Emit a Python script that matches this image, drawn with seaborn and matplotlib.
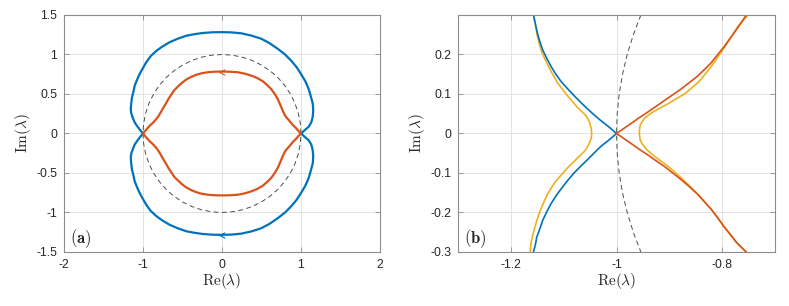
import numpy as np
import matplotlib
matplotlib.use("Agg")
import matplotlib.pyplot as plt
import seaborn as sns

# ---- panel (a): upper halves, from (1,0) over the top to (-1,0)
blue_a_x = [1.0, 1.045, 1.097, 1.130, 1.147, 1.155, 1.150, 1.126, 1.097, 1.055, 1.0, 0.945, 0.874,
            0.798, 0.706, 0.601, 0.496, 0.370, 0.244, 0.120, 0.0, -0.120, -0.244, -0.349, -0.454,
            -0.559, -0.664, -0.756, -0.832, -0.903, -0.958, -1.0, -1.042, -1.075, -1.105, -1.118,
            -1.139, -1.150, -1.155, -1.147, -1.126, -1.105, -1.076, -1.040, -1.0]
blue_a_y = [0.0, 0.040, 0.085, 0.140, 0.203, 0.280, 0.373, 0.466, 0.564, 0.661, 0.754, 0.839, 0.924,
            1.0, 1.072, 1.144, 1.200, 1.240, 1.268, 1.280, 1.283, 1.281, 1.272, 1.257, 1.237,
            1.200, 1.155, 1.100, 1.045, 0.979, 0.903, 0.830, 0.754, 0.680, 0.606, 0.542,
            0.458, 0.370, 0.300, 0.250, 0.190, 0.140, 0.097, 0.048, 0.0]

orange_a_x = [1.0, 0.966, 0.937, 0.895, 0.853, 0.802, 0.769, 0.739, 0.706, 0.668, 0.622, 0.571, 0.517,
              0.445, 0.370, 0.286, 0.202, 0.097, 0.0, -0.097, -0.181, -0.256, -0.328, -0.391, -0.454,
              -0.508, -0.559, -0.605, -0.643, -0.676, -0.706, -0.739, -0.769, -0.798, -0.832, -0.874,
              -0.916, -0.958, -1.0]
orange_a_y = [0.0, 0.034, 0.068, 0.110, 0.161, 0.220, 0.288, 0.360, 0.436, 0.500, 0.564, 0.614, 0.661,
              0.703, 0.733, 0.758, 0.775, 0.782, 0.784, 0.782, 0.775, 0.763, 0.742, 0.716, 0.682,
              0.640, 0.593, 0.547, 0.490, 0.441, 0.386, 0.331, 0.280, 0.229, 0.182, 0.136,
              0.097, 0.051, 0.0]

# dashed unit circle, first quadrant points
circ_x = [1.0, 0.9914, 0.9659, 0.9239, 0.8660, 0.7934, 0.7071, 0.6088, 0.5, 0.3827, 0.2588, 0.1305, 0.0]
circ_y = [0.0, 0.1305, 0.2588, 0.3827, 0.5, 0.6088, 0.7071, 0.7934, 0.8660, 0.9239, 0.9659, 0.9914, 1.0]

# ---- panel (b): zoom around -1, top to bottom
blue_b_x = [-1.1572, -1.1535, -1.1497, -1.1453, -1.140, -1.1327, -1.1245, -1.1157, -1.1057, -1.0931,
            -1.0805, -1.0679, -1.055, -1.0428, -1.030, -1.0145, -1.0,
            -1.0145, -1.030, -1.0428, -1.0553, -1.0679, -1.0805, -1.0931, -1.1057, -1.1157,
            -1.1245, -1.1327, -1.140, -1.1453, -1.151, -1.1535, -1.1572]
blue_b_y = [0.3, 0.2767, 0.254, 0.2333, 0.2125, 0.1917, 0.171, 0.1517, 0.133, 0.114,
            0.096, 0.079, 0.0625, 0.0475, 0.033, 0.0167, 0.0,
            -0.0167, -0.033, -0.05, -0.0667, -0.083, -0.1, -0.12, -0.1417, -0.16,
            -0.179, -0.2, -0.221, -0.242, -0.2625, -0.281, -0.3]

orange_b_x = [-0.7544, -0.7639, -0.7734, -0.7845, -0.7956, -0.8083, -0.8209, -0.8335, -0.8462, -0.862,
              -0.8778, -0.8936, -0.9095, -0.9253, -0.9411, -0.957, -0.9728, -0.9864, -1.0,
              -0.9864, -0.9728, -0.957, -0.9411, -0.9253, -0.9095, -0.8936, -0.8778, -0.862,
              -0.8462, -0.8335, -0.8209, -0.8083, -0.7956, -0.7845, -0.7734, -0.7639, -0.7544]
orange_b_y = [0.3, 0.281, 0.2625, 0.242, 0.221, 0.2, 0.179, 0.162, 0.1458, 0.129,
              0.1125, 0.098, 0.0833, 0.0687, 0.054, 0.04, 0.025, 0.0125, 0.0,
              -0.0125, -0.025, -0.04, -0.054, -0.069, -0.0833, -0.1, -0.1167, -0.135,
              -0.154, -0.173, -0.1917, -0.214, -0.2375, -0.256, -0.275, -0.288, -0.3]

yellow_l_x = [-1.1572, -1.1535, -1.151, -1.147, -1.1421, -1.135, -1.1277, -1.12, -1.112, -1.1025,
              -1.0931, -1.0836, -1.0742, -1.066, -1.0585, -1.0535, -1.0503, -1.049, -1.0478, -1.0475, -1.047,
              -1.0475, -1.0478, -1.049, -1.0503, -1.054, -1.0585, -1.066, -1.0742, -1.0836, -1.0931,
              -1.104, -1.1151, -1.123, -1.1308, -1.138, -1.1447, -1.15, -1.1547, -1.158, -1.161, -1.1625, -1.1635]
yellow_l_y = [0.3, 0.2767, 0.254, 0.231, 0.208, 0.187, 0.1667, 0.148, 0.129, 0.112,
              0.096, 0.081, 0.0667, 0.056, 0.046, 0.035, 0.025, 0.018, 0.012, 0.006, 0.0,
              -0.006, -0.012, -0.015, -0.0208, -0.031, -0.0417, -0.052, -0.0625, -0.075, -0.0875,
              -0.104, -0.121, -0.137, -0.154, -0.175, -0.196, -0.217, -0.2375, -0.254, -0.271, -0.286, -0.3]

yellow_r_x = [-0.7513, -0.761, -0.7703, -0.781, -0.7924, -0.805, -0.8177, -0.830, -0.843, -0.857,
              -0.8715, -0.888, -0.9032, -0.918, -0.9316, -0.941, -0.9475, -0.952, -0.9551, -0.9562, -0.957,
              -0.9562, -0.9551, -0.952, -0.9475, -0.941, -0.9316, -0.920, -0.9063, -0.892, -0.8778,
              -0.862, -0.8462, -0.8335, -0.8209, -0.8083, -0.7956, -0.7845, -0.7734, -0.7639, -0.7544]
yellow_r_y = [0.3, 0.285, 0.271, 0.248, 0.225, 0.2, 0.175, 0.154, 0.133, 0.116,
              0.1, 0.087, 0.075, 0.064, 0.054, 0.045, 0.0375, 0.029, 0.0208, 0.014, 0.0,
              -0.008, -0.0167, -0.025, -0.0333, -0.043, -0.054, -0.066, -0.079, -0.095, -0.1125,
              -0.132, -0.154, -0.173, -0.1917, -0.214, -0.2375, -0.256, -0.275, -0.288, -0.3]

circ_b_x = [-0.9539, -0.9682, -0.9798, -0.9887, -0.9950, -0.9987, -1.0]
circ_b_y = [0.3, 0.25, 0.2, 0.15, 0.1, 0.05, 0.0]

xticks_a = [-2, -1, 0, 1, 2]
yticks_a = [-1.5, -1, -0.5, 0, 0.5, 1, 1.5]
yticklabels_a = ["-1.5", "-1", "-0.5", "0", "0.5", "1", "1.5"]
xticks_b = [-1.2, -1, -0.8]
xticklabels_b = ["-1.2", "-1", "-0.8"]
yticks_b = [-0.3, -0.2, -0.1, 0, 0.1, 0.2]
yticklabels_b = ["-0.3", "-0.2", "-0.1", "0", "0.1", "0.2"]

BLUE, ORANGE, YELLOW = "#0072BD", "#D95319", "#EDB120"


def closed(xu, yu):
    # lower half is the mirror image (complex conjugate) of the upper half
    xs = list(xu) + list(xu[::-1][1:])
    ys = list(yu) + [-v for v in yu[::-1][1:]]
    return xs, ys


def full_circle(qx, qy):
    xs = list(qx) + [-v for v in qx[::-1][1:]]
    ys = list(qy) + list(qy[::-1][1:])
    return closed(xs, ys)


sns.set_style("white")
plt.rcParams["font.family"] = ["Liberation Sans", "DejaVu Sans"]
plt.rcParams["mathtext.fontset"] = "cm"
plt.rcParams["axes.unicode_minus"] = False

fig = plt.figure(figsize=(7.89, 3.06), dpi=100)
ax1 = fig.add_axes([0.0811, 0.1765, 0.4005, 0.7745])
ax2 = fig.add_axes([0.5805, 0.1765, 0.4018, 0.7745])

chev = [(1, 1), (-1, 0), (1, -1)]

# panel (a)
cx, cy = full_circle(circ_x, circ_y)
sns.lineplot(x=cx, y=cy, ax=ax1, sort=False, estimator=None, color="#4d4d4d",
             lw=0.7, linestyle=(0, (5, 3.5)))
bx, by = closed(blue_a_x, blue_a_y)
sns.lineplot(x=bx, y=by, ax=ax1, sort=False, estimator=None, color=BLUE, lw=1.6)
ox, oy = closed(orange_a_x, orange_a_y)
sns.lineplot(x=ox, y=oy, ax=ax1, sort=False, estimator=None, color=ORANGE, lw=1.6)
# small direction arrows at Re = 0
i_top = orange_a_x.index(0.0)
ax1.plot(ox[i_top], oy[i_top], marker=chev, ms=4, mfc="none", mec=ORANGE, mew=0.8)
i_bot = len(bx) - 1 - blue_a_x.index(0.0)
ax1.plot(bx[i_bot], by[i_bot], marker=chev, ms=4, mfc="none", mec=BLUE, mew=0.8)

# panel (b)
cbx, cby = closed(circ_b_x, circ_b_y)
sns.lineplot(x=cbx, y=cby, ax=ax2, sort=False, estimator=None, color="#4d4d4d",
             lw=0.7, linestyle=(0, (5, 3.5)))
sns.lineplot(x=yellow_l_x, y=yellow_l_y, ax=ax2, sort=False, estimator=None, color=YELLOW, lw=1.2)
sns.lineplot(x=yellow_r_x, y=yellow_r_y, ax=ax2, sort=False, estimator=None, color=YELLOW, lw=1.2)
sns.lineplot(x=blue_b_x, y=blue_b_y, ax=ax2, sort=False, estimator=None, color=BLUE, lw=1.2)
sns.lineplot(x=orange_b_x, y=orange_b_y, ax=ax2, sort=False, estimator=None, color=ORANGE, lw=1.2)

ax1.set_xlim(-2, 2)
ax1.set_ylim(-1.5, 1.5)
ax1.set_xticks(xticks_a)
ax1.set_xticklabels([str(v) for v in xticks_a])
ax1.set_yticks(yticks_a)
ax1.set_yticklabels(yticklabels_a)

ax2.set_xlim(-1.3, -0.7)
ax2.set_ylim(-0.3, 0.3)
ax2.set_xticks(xticks_b)
ax2.set_xticklabels(xticklabels_b)
ax2.set_yticks(yticks_b)
ax2.set_yticklabels(yticklabels_b)

for ax, tag in [(ax1, "(a)"), (ax2, "(b)")]:
    ax.grid(True, color="#e3e3e3", lw=0.7)
    ax.set_axisbelow(True)
    for s in ax.spines.values():
        s.set_color("#8c8c8c")
        s.set_linewidth(0.8)
    ax.tick_params(direction="in", length=3.5, width=0.6, color="#8c8c8c",
                   labelsize=8.8, labelcolor="#262626", pad=5,
                   top=True, right=True, bottom=True, left=True)
    ax.set_xlabel(r"$\mathrm{Re}(\lambda)$", fontsize=11, labelpad=0, color="#262626")
    ax.set_ylabel(r"$\mathrm{Im}(\lambda)$", fontsize=11, labelpad=2, color="#262626")
    ax.text(0.02, 0.055, r"$\mathbf{" + tag + "}$", transform=ax.transAxes,
            fontsize=12, va="center", ha="left", color="#262626")

fig.savefig("out.png", dpi=100)
